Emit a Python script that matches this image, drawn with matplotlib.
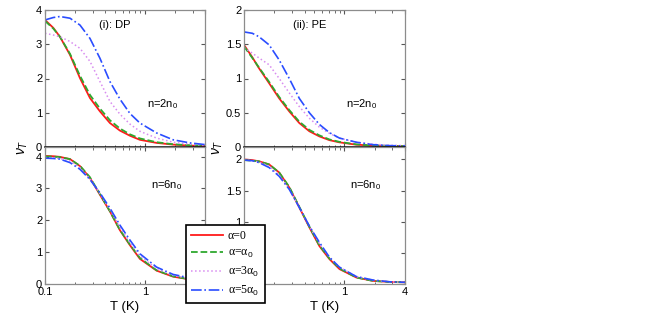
import matplotlib
matplotlib.use('Agg')
import matplotlib.pyplot as plt
from matplotlib.ticker import FixedLocator, NullFormatter

# temperature grid (K)
T = [0.1, 0.121, 0.141, 0.178, 0.224, 0.282, 0.355, 0.447, 0.562, 0.708,
     0.891, 1.31, 1.92, 2.82, 4.0]

# (i) DP, n = 2 n0
dp2_a0 = [3.71, 3.48, 3.22, 2.69, 2.01, 1.43, 1.04, 0.70, 0.48, 0.33, 0.21, 0.12, 0.07, 0.04, 0.03]
dp2_a1 = [3.68, 3.46, 3.22, 2.72, 2.08, 1.52, 1.12, 0.78, 0.54, 0.37, 0.25, 0.14, 0.08, 0.05, 0.03]
dp2_a3 = [3.32, 3.27, 3.22, 3.08, 2.88, 2.50, 1.91, 1.33, 0.96, 0.67, 0.46, 0.26, 0.14, 0.08, 0.05]
dp2_a5 = [3.71, 3.78, 3.81, 3.76, 3.56, 3.17, 2.59, 1.91, 1.40, 0.98, 0.70, 0.41, 0.21, 0.12, 0.07]

# (ii) PE, n = 2 n0
pe2_a0 = [1.49, 1.31, 1.15, 0.93, 0.71, 0.52, 0.35, 0.23, 0.155, 0.10, 0.068, 0.034, 0.02, 0.015, 0.012]
pe2_a1 = [1.47, 1.30, 1.16, 0.95, 0.73, 0.54, 0.37, 0.25, 0.17, 0.11, 0.075, 0.038, 0.022, 0.016, 0.012]
pe2_a3 = [1.45, 1.37, 1.30, 1.20, 1.00, 0.79, 0.59, 0.42, 0.29, 0.20, 0.13, 0.07, 0.04, 0.025, 0.02]
pe2_a5 = [1.68, 1.66, 1.61, 1.49, 1.27, 1.00, 0.71, 0.50, 0.33, 0.21, 0.13, 0.07, 0.034, 0.02, 0.015]

# (i) DP, n = 6 n0
dp6_a0 = [4.02, 4.01, 3.99, 3.92, 3.70, 3.33, 2.80, 2.28, 1.69, 1.22, 0.79, 0.42, 0.23, 0.145, 0.10]
dp6_a1 = [4.00, 4.00, 3.98, 3.92, 3.71, 3.35, 2.82, 2.28, 1.70, 1.24, 0.82, 0.43, 0.24, 0.15, 0.10]
dp6_a3 = [3.97, 3.96, 3.94, 3.86, 3.65, 3.30, 2.83, 2.33, 1.78, 1.30, 0.88, 0.48, 0.27, 0.17, 0.11]
dp6_a5 = [3.95, 3.94, 3.92, 3.81, 3.60, 3.28, 2.86, 2.38, 1.85, 1.38, 0.95, 0.53, 0.30, 0.19, 0.12]

# (ii) PE, n = 6 n0
pe6_a0 = [2.00, 1.99, 1.97, 1.92, 1.79, 1.55, 1.23, 0.91, 0.61, 0.40, 0.24, 0.105, 0.05, 0.033, 0.027]
pe6_a1 = [1.99, 1.98, 1.97, 1.92, 1.79, 1.56, 1.24, 0.92, 0.62, 0.41, 0.25, 0.105, 0.05, 0.033, 0.027]
pe6_a3 = [1.99, 1.98, 1.96, 1.89, 1.75, 1.53, 1.23, 0.93, 0.65, 0.43, 0.27, 0.12, 0.06, 0.035, 0.027]
pe6_a5 = [1.99, 1.98, 1.95, 1.87, 1.73, 1.52, 1.23, 0.93, 0.67, 0.43, 0.27, 0.12, 0.064, 0.035, 0.027]

labels = ['α=0', 'α=α$_0$', 'α=3α$_0$', 'α=5α$_0$']
styles = [dict(color='#ff1a1a', ls='-', lw=1.3),
          dict(color='#2ea82e', ls='--', lw=1.3),
          dict(color='#d88cf0', ls=':', lw=1.1),
          dict(color='#2a4dff', ls='-.', lw=1.2)]

plt.rcParams['font.family'] = ['Liberation Sans', 'DejaVu Sans']
plt.rcParams['mathtext.fontset'] = 'custom'
plt.rcParams['mathtext.rm'] = 'Liberation Sans'
plt.rcParams['mathtext.it'] = 'Liberation Sans:italic'

fig = plt.figure(figsize=(6.54, 3.27), dpi=100)
W, H = 654.0, 327.0


def mk_ax(x0, y0, x1, y1):
    return fig.add_axes([x0 / W, 1 - y1 / H, (x1 - x0) / W, (y1 - y0) / H])


ax_tl = mk_ax(45, 10, 205, 147)
ax_tr = mk_ax(244, 10, 405, 147)
ax_bl = mk_ax(45, 147, 205, 284)
ax_br = mk_ax(244, 147, 405, 284)

panels = [
    (ax_tl, [dp2_a0, dp2_a1, dp2_a3, dp2_a5], (0, 4), [0, 1, 2, 3, 4], ['0', '1', '2', '3', '4']),
    (ax_tr, [pe2_a0, pe2_a1, pe2_a3, pe2_a5], (0, 2), [0, 0.5, 1, 1.5, 2], ['0', '0.5', '1', '1.5', '2']),
    (ax_bl, [dp6_a0, dp6_a1, dp6_a3, dp6_a5], (0, 4.3), [0, 1, 2, 3, 4], ['0', '1', '2', '3', '4']),
    (ax_br, [pe6_a0, pe6_a1, pe6_a3, pe6_a5], (0, 2.2), [0, 0.5, 1, 1.5, 2], ['0', '0.5', '1', '1.5', '2']),
]

lines = []
for ax, series, ylim, yt, ytl in panels:
    for ys, st, lab in zip(series, styles, labels):
        ln, = ax.plot(T, ys, label=lab, **st)
        if ax is ax_bl:
            lines.append(ln)
    ax.set_xscale('log')
    ax.set_xlim(0.1, 4)
    ax.set_ylim(*ylim)
    ax.set_yticks(yt)
    ax.set_yticklabels(ytl)
    ax.xaxis.set_minor_locator(FixedLocator([0.2, 0.3, 0.4, 0.5, 0.6, 0.7, 0.8, 0.9, 2, 3]))
    ax.xaxis.set_minor_formatter(NullFormatter())
    ax.tick_params(which='both', direction='in', top=True, right=True,
                   labelsize=8, color='#555555', pad=2)
    ax.tick_params(which='major', length=3)
    ax.tick_params(which='minor', length=1.8)
    for sp in ax.spines.values():
        sp.set_color('#8c8c8c')
        sp.set_linewidth(0.9)

for ax in (ax_tl, ax_tr):
    ax.set_xticks([0.1, 1, 4])
    ax.set_xticklabels([])
    ax.spines['bottom'].set_color('black')
    ax.spines['bottom'].set_linewidth(1.1)
    ax.spines['bottom'].set_zorder(5)

ax_bl.set_xticks([0.1, 1])
ax_bl.set_xticklabels(['0.1', '1'])
ax_br.set_xticks([1, 4])
ax_br.set_xticklabels(['1', '4'])

for ax in (ax_bl, ax_br):
    ax.set_xlabel('T (K)', fontsize=9.5, labelpad=3)

fig.text(23 / W, 1 - 147 / H, r'$\nu_T$', rotation=90, fontsize=10, ha='center', va='center')
fig.text(218 / W, 1 - 147 / H, r'$\nu_T$', rotation=90, fontsize=10, ha='center', va='center')

fig.text(115 / W, 1 - 25 / H, '(i): DP', fontsize=8, ha='center', va='center')
fig.text(310 / W, 1 - 25 / H, '(ii): PE', fontsize=8, ha='center', va='center')
fig.text(163 / W, 1 - 104 / H, 'n=2n$_0$', fontsize=8, ha='center', va='center')
fig.text(362 / W, 1 - 104 / H, 'n=2n$_0$', fontsize=8, ha='center', va='center')
fig.text(167 / W, 1 - 185 / H, 'n=6n$_0$', fontsize=8, ha='center', va='center')
fig.text(366 / W, 1 - 185 / H, 'n=6n$_0$', fontsize=8, ha='center', va='center')

leg = fig.legend(handles=lines, loc='upper left',
                 bbox_to_anchor=(186 / W, 1 - 225 / H), bbox_transform=fig.transFigure,
                 prop={'family': ['Liberation Serif', 'DejaVu Serif'], 'size': 8.5},
                 frameon=True, fancybox=False, edgecolor='black', framealpha=1,
                 handlelength=2.7, handletextpad=0.4, labelspacing=0.4,
                 borderpad=0.45, borderaxespad=0)
leg.get_frame().set_linewidth(1.2)
leg.set_zorder(10)

fig.savefig('out.png', dpi=100)
